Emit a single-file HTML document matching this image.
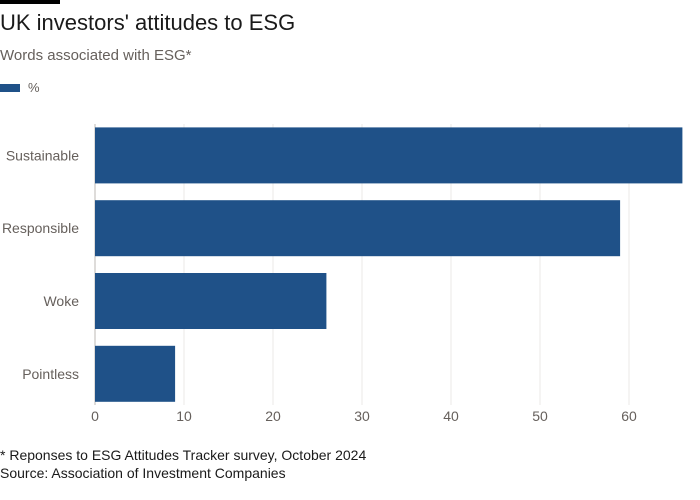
<!DOCTYPE html>
<html><head><meta charset="utf-8"><style>
body{margin:0;background:#fff;width:700px;height:500px;overflow:hidden;font-family:"Liberation Sans",sans-serif;position:relative}
.t{position:absolute;white-space:nowrap}
</style></head><body>
<div style="position:absolute;left:0;top:0;width:60px;height:4px;background:#000"></div>
<div class="t" style="left:0;top:10px;font-size:22px;color:#1a1a1a">UK investors' attitudes to ESG</div>
<div class="t" style="left:0;top:47px;font-size:15px;color:#66605c">Words associated with ESG*</div>
<div style="position:absolute;left:0;top:84px;width:20px;height:8px;background:#1f5188"></div>
<div class="t" style="left:28px;top:80px;font-size:13px;color:#66605c">%</div>
<svg id="c" width="700" height="500" style="position:absolute;left:0;top:0"></svg>
<div class="t" style="left:0;top:447px;font-size:14px;color:#1a1a1a">* Reponses to ESG Attitudes Tracker survey, October 2024</div>
<div class="t" style="left:0;top:465px;font-size:14px;color:#1a1a1a">Source: Association of Investment Companies</div>
<script>
const categories=["Sustainable","Responsible","Woke","Pointless"];
const values=[66,59,26,9];
const ticks=[0,10,20,30,40,50,60];
const svg=document.getElementById('c');const NS='http://www.w3.org/2000/svg';
const x0=95,ppu=(629-95)/60,top0=119,step=72.8,bh=56;
const x=v=>x0+v*ppu;
function mk(t,a){const e=document.createElementNS(NS,t);for(const k in a)e.setAttribute(k,a[k]);svg.appendChild(e);return e;}
ticks.forEach(t=>{
 const l=mk('line',{x1:x(t),x2:x(t),y1:124,y2:405,stroke:t===0?'#bdbab6':'#ebe9e7','stroke-width':1});
 
 
 const tx=mk('text',{x:x(t),y:421,'text-anchor':'middle','font-size':14,fill:'#66605c','font-family':'Liberation Sans, sans-serif'});
 tx.textContent=t;
 
 
});
categories.forEach((c,i)=>{
 const y=top0+i*step+(step-bh)/2;
 const r=mk('rect',{x:x0,y:y,width:x(values[i])-x0,height:bh,fill:'#1f5188'});
 
 
 const tx=mk('text',{x:79,y:y+bh/2+5,'text-anchor':'end','font-size':14,fill:'#66605c','font-family':'Liberation Sans, sans-serif'});
 tx.textContent=c;
 
 
});
</script>
</body></html>
